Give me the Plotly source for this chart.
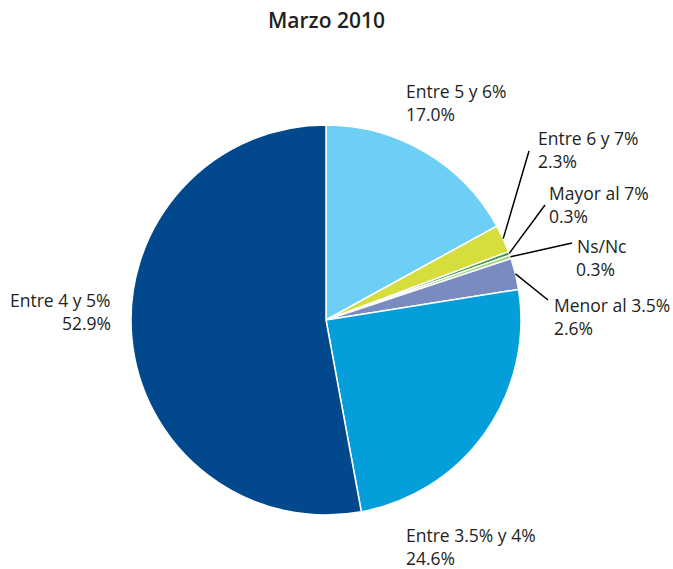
import math
import plotly.graph_objects as go

# ---- data ----
labels = ["Entre 5 y 6%", "Entre 6 y 7%", "Mayor al 7%", "Ns/Nc",
          "Menor al 3.5%", "Entre 3.5% y 4%", "Entre 4 y 5%"]
values = [17.0, 2.3, 0.3, 0.3, 2.6, 24.6, 52.9]
colors = ["#6dcff6", "#d6de3e", "#3e9b46", "#a6d486",
          "#7a8bc0", "#049edb", "#01488c"]
title_text = "Marzo 2010"

# ---- layout geometry (pixels) ----
W, H = 673, 569
L, R, T, B = 131, 152, 125, 54
PW, PH = W - L - R, H - T - B
CX, CY = L + PW / 2, T + PH / 2
RAD = min(PW, PH) / 2
FONT = "Open Sans"
FS = 17.5
LINE_GAP = 23


def px(x):
    return (x - L) / PW


def py(y):
    return 1 - (y - T) / PH


# label placement: anchor x, first-line center y, xanchor, leader-line end
label_layout = {
    "Entre 5 y 6%": (404, 91, "left", None),
    "Entre 6 y 7%": (536, 138, "left", (529, 151)),
    "Mayor al 7%": (547, 193, "left", (545, 205)),
    "Ns/Nc": (575, 246, "left", (572, 243)),
    "Menor al 3.5%": (552, 305, "left", (548, 300)),
    "Entre 3.5% y 4%": (404, 535, "left", None),
    "Entre 4 y 5%": (113, 300, "right", None),
}

fig = go.Figure(go.Pie(
    labels=labels, values=values, sort=False, direction="clockwise",
    rotation=0, textinfo="none", hoverinfo="label+percent",
    marker=dict(colors=colors, line=dict(color="white", width=1.5)),
    showlegend=False,
))

annotations = []
shapes = []
total = sum(values)
cum = 0.0
for lab, v in zip(labels, values):
    mid = (cum + v / 2) / total * 2 * math.pi
    cum += v
    ax, ay, xanc, end = label_layout[lab]
    pct = f"{v / total * 100:.1f}%"
    annotations.append(dict(x=px(ax), y=py(ay), xref="paper", yref="paper",
                            text=lab, showarrow=False, xanchor=xanc, yanchor="middle",
                            font=dict(family=FONT, size=FS, color="#231f20")))
    annotations.append(dict(x=px(ax - (1 if lab == "Ns/Nc" else 0)), y=py(ay + LINE_GAP),
                            xref="paper", yref="paper",
                            text=pct, showarrow=False, xanchor=xanc, yanchor="middle",
                            font=dict(family=FONT, size=FS, color="#231f20")))
    if end is not None:
        sx = CX + RAD * 1.0 * math.sin(mid)
        sy = CY - RAD * 1.0 * math.cos(mid)
        shapes.append(dict(type="line", xref="paper", yref="paper",
                           x0=px(sx), y0=py(sy), x1=px(end[0]), y1=py(end[1]),
                           line=dict(color="black", width=1.5)))

annotations.append(dict(x=px(326), y=py(20), xref="paper", yref="paper",
                        text=title_text, showarrow=False, xanchor="center", yanchor="middle",
                        font=dict(family=FONT, size=21, color="#231f20", weight=600)))

fig.update_layout(
    width=W, height=H,
    margin=dict(l=L, r=R, t=T, b=B),
    paper_bgcolor="white", plot_bgcolor="white",
    annotations=annotations, shapes=shapes,
)

fig.write_html("out.html", post_script="document.body.style.margin='0';",
               config={"displayModeBar": False})
